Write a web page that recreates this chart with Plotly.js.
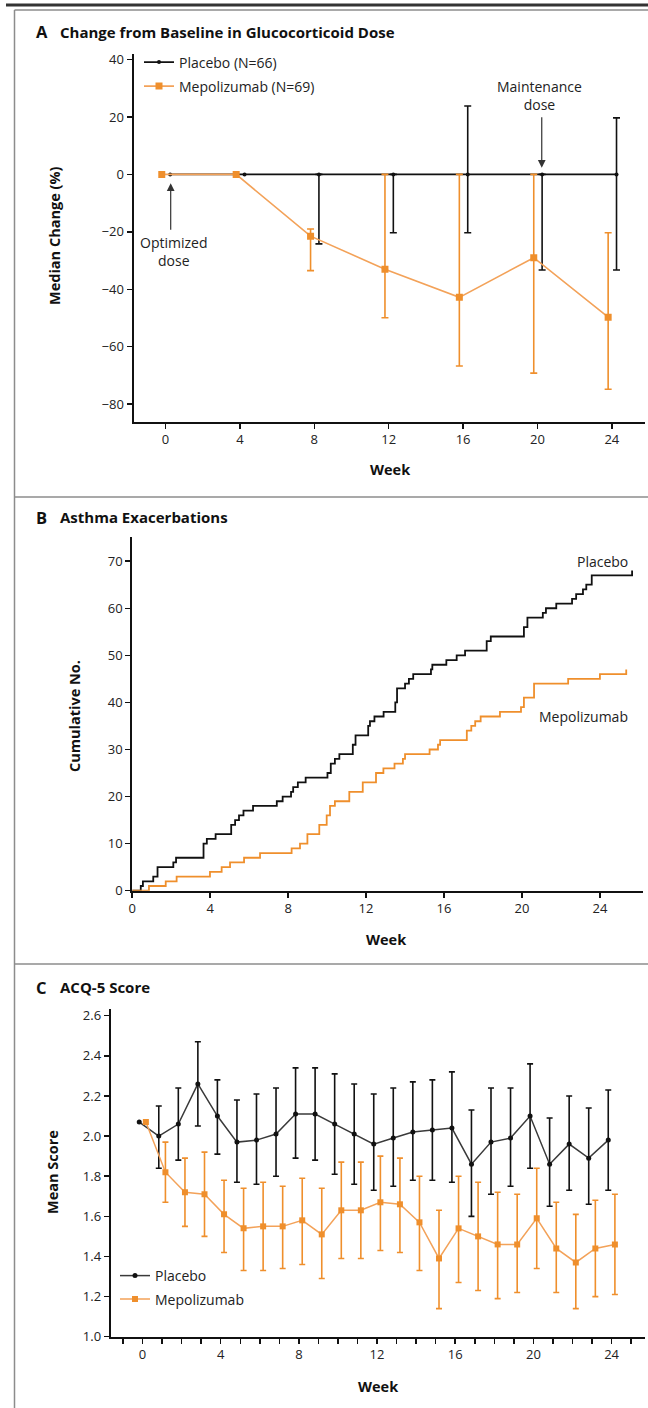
<!DOCTYPE html>
<html>
<head>
<meta charset="utf-8">
<script src="https://cdn.plot.ly/plotly-3.0.1.min.js"></script>
<style>
  html, body { margin: 0; padding: 0; background: #ffffff; }
  #chart { width: 648px; height: 1408px; }
</style>
</head>
<body>
<div id="chart"></div>
<script>
// ---------------- DATA ----------------
// Panel A: change from baseline in glucocorticoid dose (median %, with bars)
const weeksA = [0, 4, 8, 12, 16, 20, 24];
const placeboA = [0, 0, 0, 0, 0, 0, 0];
const placeboAHigh = [null, null, 0, 0, 23.8, 0, 19.7];
const placeboALow = [null, null, -24.2, -20.3, -20.3, -33.3, -33.3];
const mepoA = [0, 0, -21.5, -33, -42.8, -29, -49.7];
const mepoAHigh = [null, null, -19, 0, 0, 0, -20.3];
const mepoALow = [null, null, -33.5, -49.9, -66.7, -69.2, -74.8];

// Panel B: cumulative asthma exacerbations (step curves)
const placeboBWeeks = [0, 0.44, 0.55, 1.08, 1.3, 2.11, 2.25, 3.66, 3.83, 4.28, 5.08, 5.28, 5.48, 5.71, 6.2,
  7.42, 7.72, 8.15, 8.26, 8.5, 8.9, 10.02, 10.19, 10.4, 10.63, 11.32, 11.46, 12.11, 12.2, 12.43, 12.9,
  13.5, 13.59, 14.0, 14.2, 14.42, 15.33, 15.4, 16.12, 16.65, 17.08, 18.19, 18.4, 20.1, 20.28, 21.07, 21.23,
  21.76, 22.57, 22.78, 23.13, 23.3, 23.58, 25.65];
const placeboBCount = [0, 1, 2, 3, 5, 6, 7, 10, 11, 12, 14, 15, 16, 17, 18,
  19, 20, 21, 22, 23, 24, 25, 27, 28, 29, 31, 33, 35, 36, 37, 38,
  40, 43, 44, 45, 46, 47, 48, 49, 50, 51, 53, 54, 56, 58, 59, 60,
  61, 62, 63, 64, 65, 67, 68];
const mepoBWeeks = [0, 0.86, 1.72, 2.28, 3.99, 4.59, 5.02, 5.74, 6.56, 8.18, 8.61, 8.99, 9.6, 9.98, 10.15,
  10.4, 11.14, 11.83, 12.51, 12.89, 13.46, 13.89, 14.0, 15.26, 15.69, 15.8, 17.17, 17.4, 17.6, 17.88, 18.87,
  19.95, 20.1, 20.62, 22.37, 24.0, 25.35];
const mepoBCount = [0, 1, 2, 3, 4, 5, 6, 7, 8, 9, 10, 12, 14, 16, 18,
  19, 21, 23, 25, 26, 27, 28, 29, 30, 31, 32, 34, 35, 36, 37, 38,
  39, 41, 44, 45, 46, 47];

// Panel C: ACQ-5 mean score with bars
const weeksC = [0,1,2,3,4,5,6,7,8,9,10,11,12,13,14,15,16,17,18,19,20,21,22,23,24];
const placeboC = [2.07, 2.00, 2.06, 2.26, 2.10, 1.97, 1.98, 2.01, 2.11, 2.11, 2.06, 2.01, 1.96, 1.99, 2.02,
  2.03, 2.04, 1.86, 1.97, 1.99, 2.10, 1.86, 1.96, 1.89, 1.98];
const placeboCHigh = [null, 2.15, 2.24, 2.47, 2.28, 2.18, 2.21, 2.24, 2.34, 2.34, 2.31, 2.26, 2.21, 2.24, 2.27,
  2.28, 2.32, 2.13, 2.24, 2.24, 2.36, 2.09, 2.20, 2.14, 2.23];
const placeboCLow = [null, 1.84, 1.88, 2.05, 1.91, 1.77, 1.76, 1.80, 1.89, 1.88, 1.81, 1.76, 1.73, 1.75, 1.78,
  1.78, 1.77, 1.60, 1.71, 1.75, 1.84, 1.65, 1.73, 1.66, 1.73];
const mepoC = [2.07, 1.82, 1.72, 1.71, 1.61, 1.54, 1.55, 1.55, 1.58, 1.51, 1.63, 1.63, 1.67, 1.66, 1.57,
  1.39, 1.54, 1.50, 1.46, 1.46, 1.59, 1.44, 1.37, 1.44, 1.46];
const mepoCHigh = [null, 1.97, 1.89, 1.92, 1.78, 1.74, 1.77, 1.75, 1.79, 1.74, 1.87, 1.87, 1.90, 1.89, 1.80,
  1.63, 1.80, 1.77, 1.72, 1.71, 1.84, 1.67, 1.61, 1.68, 1.71];
const mepoCLow = [null, 1.67, 1.55, 1.50, 1.42, 1.33, 1.33, 1.34, 1.36, 1.29, 1.39, 1.39, 1.43, 1.42, 1.33,
  1.14, 1.27, 1.23, 1.19, 1.22, 1.34, 1.22, 1.14, 1.20, 1.21];

const ticksA_y = [-80, -60, -40, -20, 0, 20, 40];
const ticksA_x = [0, 4, 8, 12, 16, 20, 24];
const ticksB_y = [0, 10, 20, 30, 40, 50, 60, 70];
const ticksB_x = [0, 4, 8, 12, 16, 20, 24];
const ticksC_y = [1.0, 1.2, 1.4, 1.6, 1.8, 2.0, 2.2, 2.4, 2.6];
const ticksC_x = [0, 4, 8, 12, 16, 20, 24];

// ---------------- STYLE ----------------
const W = 648, H = 1408;
const PX = x => x / W;
const PY = y => 1 - y / H;
const ORANGE = '#EF8F2C';
const ORANGE_LINE = '#F3A259';
const BLACK = '#111111';
const TXT = '#222222';
const FONT = '"Open Sans", "Noto Sans", sans-serif';

function upper(vals, hi) { return vals.map((v, i) => hi[i] === null ? NaN : hi[i] - v); }
function lower(vals, lo) { return vals.map((v, i) => lo[i] === null ? NaN : v - lo[i]); }
function shift(arr, d) { return arr.map(v => v + d); }

const traces = [
  // Panel A
  {
    x: shift(weeksA, 0.25), y: placeboA, xaxis: 'x', yaxis: 'y',
    type: 'scatter', mode: 'lines+markers', name: 'Placebo (N=66)', legend: 'legend',
    line: { color: BLACK, width: 1.6 },
    marker: { color: BLACK, size: 4, symbol: 'circle' },
    error_y: { type: 'data', symmetric: false, array: upper(placeboA, placeboAHigh),
      arrayminus: lower(placeboA, placeboALow), color: BLACK, thickness: 1.6, width: 3.5 }
  },
  {
    x: shift(weeksA, -0.2), y: mepoA, xaxis: 'x', yaxis: 'y',
    type: 'scatter', mode: 'lines+markers', name: 'Mepolizumab (N=69)', legend: 'legend2',
    line: { color: ORANGE_LINE, width: 1.6 },
    marker: { color: ORANGE, size: 7, symbol: 'square' },
    error_y: { type: 'data', symmetric: false, array: upper(mepoA, mepoAHigh),
      arrayminus: lower(mepoA, mepoALow), color: ORANGE, thickness: 1.6, width: 3.5 }
  },
  // Panel B
  {
    x: placeboBWeeks, y: placeboBCount, xaxis: 'x2', yaxis: 'y2',
    type: 'scatter', mode: 'lines', line: { color: BLACK, width: 1.8, shape: 'hv' },
    showlegend: false, name: 'Placebo'
  },
  {
    x: mepoBWeeks, y: mepoBCount, xaxis: 'x2', yaxis: 'y2',
    type: 'scatter', mode: 'lines', line: { color: ORANGE, width: 1.8, shape: 'hv' },
    showlegend: false, name: 'Mepolizumab'
  },
  // Panel C
  {
    x: shift(weeksC, -0.17), y: placeboC, xaxis: 'x3', yaxis: 'y3',
    type: 'scatter', mode: 'lines+markers', name: 'Placebo', legend: 'legend3',
    line: { color: '#3a3a3a', width: 1.5 },
    marker: { color: BLACK, size: 5, symbol: 'circle' },
    error_y: { type: 'data', symmetric: false, array: upper(placeboC, placeboCHigh),
      arrayminus: lower(placeboC, placeboCLow), color: BLACK, thickness: 1.6, width: 3 }
  },
  {
    x: shift(weeksC, 0.17), y: mepoC, xaxis: 'x3', yaxis: 'y3',
    type: 'scatter', mode: 'lines+markers', name: 'Mepolizumab', legend: 'legend4',
    line: { color: ORANGE_LINE, width: 1.5 },
    marker: { color: ORANGE, size: 6, symbol: 'square' },
    error_y: { type: 'data', symmetric: false, array: upper(mepoC, mepoCHigh),
      arrayminus: lower(mepoC, mepoCLow), color: ORANGE, thickness: 1.6, width: 3 }
  }
];

const axisBase = {
  showline: true, linecolor: BLACK, linewidth: 2,
  ticks: 'outside', ticklen: 5, tickwidth: 1.5, tickcolor: BLACK,
  showgrid: false, zeroline: false, fixedrange: true,
  tickfont: { family: FONT, size: 13, color: TXT }
};

function legendAt(x, y) {
  return {
    x: PX(x), y: PY(y), xanchor: 'left', yanchor: 'middle', xref: 'paper', yref: 'paper',
    bgcolor: 'rgba(0,0,0,0)', borderwidth: 0, itemwidth: 30,
    font: { family: FONT, size: 14, color: TXT }
  };
}

const layout = {
  width: W, height: H,
  margin: { l: 0, r: 0, t: 0, b: 0 },
  paper_bgcolor: '#ffffff', plot_bgcolor: 'rgba(0,0,0,0)',
  font: { family: FONT, color: TXT },
  showlegend: true,
  legend: legendAt(139, 62.5),
  legend2: legendAt(139, 86.5),
  legend3: legendAt(115, 1276),
  legend4: legendAt(115, 1299.5),
  xaxis: Object.assign({}, axisBase, {
    domain: [PX(133.5), PX(644.6)], range: [-1.72, 25.76], anchor: 'y',
    tickvals: ticksA_x
  }),
  yaxis: Object.assign({}, axisBase, {
    domain: [PY(421.7), PY(53.5)], range: [-86.1, 42.1], anchor: 'x',
    tickvals: ticksA_y
  }),
  xaxis2: Object.assign({}, axisBase, {
    domain: [PX(132.2), PX(642.6)], range: [0, 26.19], anchor: 'y2',
    tickvals: ticksB_x
  }),
  yaxis2: Object.assign({}, axisBase, {
    domain: [PY(890.7), PY(536.7)], range: [0, 75.2], anchor: 'x2',
    tickvals: ticksB_y
  }),
  xaxis3: Object.assign({}, axisBase, {
    domain: [PX(110.7), PX(644.6)], range: [-1.63, 25.69], anchor: 'y3',
    tickvals: ticksC_x,
    minor: { dtick: 1, tick0: 0, ticks: 'outside', ticklen: 5, tickwidth: 1.5, tickcolor: BLACK, showgrid: false }
  }),
  yaxis3: Object.assign({}, axisBase, {
    domain: [PY(1336.7), PY(1009.3)], range: [1.0, 2.632], anchor: 'x3',
    tickvals: ticksC_y, tickformat: '.1f'
  }),
  shapes: [
    { type: 'line', xref: 'paper', yref: 'paper', x0: PX(6), x1: PX(648), y0: PY(5), y1: PY(5),
      line: { color: '#333333', width: 3 } },
    { type: 'line', xref: 'paper', yref: 'paper', x0: PX(14.5), x1: PX(648), y0: PY(10), y1: PY(10),
      line: { color: '#8c8c8c', width: 1.5 } },
    { type: 'line', xref: 'paper', yref: 'paper', x0: PX(14.5), x1: PX(14.5), y0: PY(10), y1: PY(1408),
      line: { color: '#8c8c8c', width: 1.5 } },
    { type: 'line', xref: 'paper', yref: 'paper', x0: PX(14.5), x1: PX(648), y0: PY(497), y1: PY(497),
      line: { color: '#8c8c8c', width: 1.5 } },
    { type: 'line', xref: 'paper', yref: 'paper', x0: PX(14.5), x1: PX(648), y0: PY(964), y1: PY(964),
      line: { color: '#8c8c8c', width: 1.5 } }
  ],
  annotations: []
};

function txt(text, x, y, opts) {
  return Object.assign({
    text: text, x: PX(x), y: PY(y), xref: 'paper', yref: 'paper', showarrow: false,
    xanchor: 'left', yanchor: 'middle',
    font: { family: FONT, size: 14, color: TXT }
  }, opts || {});
}
const titleFont = { family: FONT, size: 15, color: BLACK, weight: 700 };
const axTitleFont = { family: FONT, size: 14.5, color: BLACK, weight: 700 };

layout.annotations.push(
  // panel titles
  txt('A', 34, 32, { font: { family: FONT, size: 16.5, color: BLACK, weight: 700 } }),
  txt('Change from Baseline in Glucocorticoid Dose', 58, 32, { font: titleFont }),
  txt('B', 34, 517, { font: { family: FONT, size: 16.5, color: BLACK, weight: 700 } }),
  txt('Asthma Exacerbations', 58, 517, { font: titleFont }),
  txt('C', 34, 987, { font: { family: FONT, size: 16.5, color: BLACK, weight: 700 } }),
  txt('ACQ-5 Score', 58, 987, { font: titleFont }),
  // axis titles
  txt('Median Change (%)', 54, 236, { xanchor: 'center', textangle: -90, font: axTitleFont }),
  txt('Week', 390, 470, { xanchor: 'center', font: axTitleFont }),
  txt('Cumulative No.', 74, 716, { xanchor: 'center', textangle: -90, font: axTitleFont }),
  txt('Week', 386, 939, { xanchor: 'center', font: axTitleFont }),
  txt('Mean Score', 52, 1172, { xanchor: 'center', textangle: -90, font: axTitleFont }),
  txt('Week', 378, 1386, { xanchor: 'center', font: axTitleFont }),
  // panel B curve labels
  txt('Placebo', 630, 561, { xanchor: 'right' }),
  txt('Mepolizumab', 630, 716, { xanchor: 'right' }),
  // panel A notes
  txt('Optimized<br>dose', 173, 252, { xanchor: 'center', align: 'center' }),
  txt('Maintenance<br>dose', 539.5, 96, { xanchor: 'center', align: 'center' }),
  // arrows
  { x: 0.28, y: -3.1, xref: 'x', yref: 'y', ax: 0, ay: 48, axref: 'pixel', ayref: 'pixel',
    text: '', showarrow: true, arrowhead: 2, arrowsize: 1.3, arrowwidth: 1.2, arrowcolor: '#333333' },
  { x: 20.23, y: 2.3, xref: 'x', yref: 'y', ax: 0, ay: -52, axref: 'pixel', ayref: 'pixel',
    text: '', showarrow: true, arrowhead: 2, arrowsize: 1.3, arrowwidth: 1.2, arrowcolor: '#333333' }
);

Plotly.newPlot('chart', traces, layout, { staticPlot: true, displayModeBar: false });
</script>
</body>
</html>
